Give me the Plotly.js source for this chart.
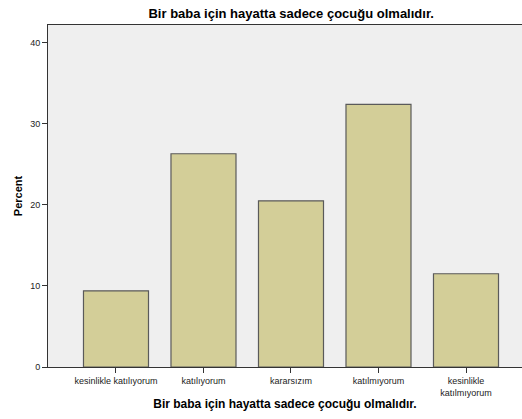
<!DOCTYPE html>
<html>
<head>
<meta charset="utf-8">
<script src="https://cdn.plot.ly/plotly-3.0.1.min.js"></script>
<style>html,body{margin:0;padding:0;background:#fff;}#chart{width:522px;height:419px;}</style>
</head>
<body>
<div id="chart"></div>
<script>
const categories = ["kesinlikle katılıyorum", "katılıyorum", "kararsızım", "katılmıyorum", "kesinlikle<br>katılmıyorum"];
const percentValues = [9.4, 26.3, 20.5, 32.4, 11.5];
const yTickValues = [0, 10, 20, 30, 40];
const chartTitle = "Bir baba için hayatta sadece çocuğu olmalıdır.";
const xTitle = "Bir baba için hayatta sadece çocuğu olmalıdır.";
const yTitle = "Percent";

const FONT = "Arial, 'Liberation Sans', sans-serif";

const trace = {
  type: "bar",
  x: categories,
  y: percentValues,
  marker: { color: "#d3ce98", line: { color: "#5a5a5a", width: 1.2 } },
  hoverinfo: "none"
};

const layout = {
  width: 522,
  height: 419,
  margin: { l: 48, r: 0, t: 25, b: 52 },
  paper_bgcolor: "#ffffff",
  plot_bgcolor: "#efefef",
  bargap: 0.257,
  showlegend: false,
  font: { family: FONT, color: "#000" },
  title: {
    text: "<b>" + chartTitle + "</b>",
    font: { family: FONT, size: 13, color: "#000" },
    x: 0.513, xanchor: "center", xref: "paper",
    y: 1 - 13 / 419, yanchor: "middle", yref: "container"
  },
  xaxis: {
    type: "category",
    range: [-0.777, 4.64],
    showline: true, linecolor: "#333", linewidth: 1,
    mirror: true,
    ticks: "outside", ticklen: 5, tickcolor: "#333", tickwidth: 1,
    tickfont: { family: FONT, size: 9, color: "#222" },
    showgrid: false, zeroline: false,
    automargin: false,
    title: {
      text: "<b>" + xTitle + "</b>",
      font: { family: FONT, size: 12, color: "#000" },
      standoff: 3
    }
  },
  yaxis: {
    range: [0, 42.18],
    tickvals: yTickValues,
    showline: true, linecolor: "#333", linewidth: 1,
    ticks: "outside", ticklen: 5, tickcolor: "#333", tickwidth: 1,
    tickfont: { family: FONT, size: 9, color: "#222" },
    showgrid: false, zeroline: false,
    automargin: false,
    title: {
      text: "<b>" + yTitle + "</b>",
      font: { family: FONT, size: 11, color: "#000" },
      standoff: 5
    }
  }
};

Plotly.newPlot("chart", [trace], layout, { displayModeBar: false, staticPlot: true });
</script>
</body>
</html>
